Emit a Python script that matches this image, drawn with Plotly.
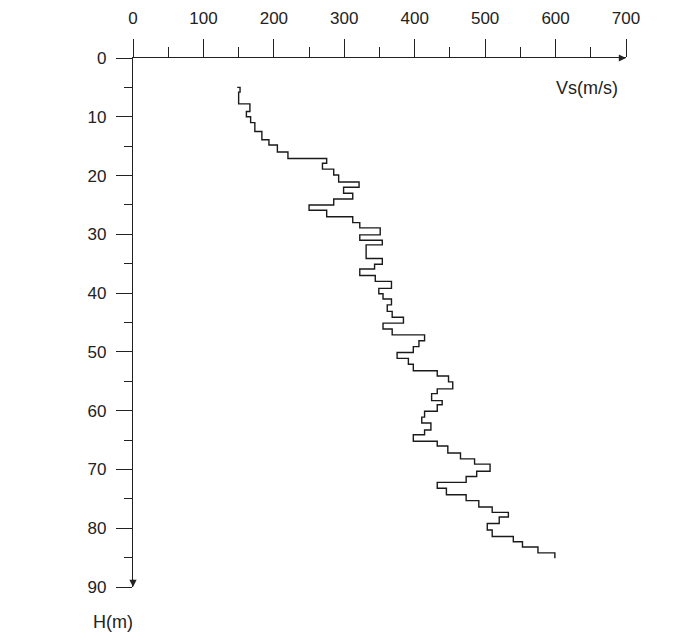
import plotly.graph_objects as go

# Layer top depths (m) and shear-wave velocity (m/s) of each layer
depth_top = [5.0, 5.0, 5.8, 7.8, 9.1, 10.0, 11.0, 12.5, 13.9, 14.8, 16.0, 17.1, 17.9, 18.9, 19.9,
             21.1, 22.0, 23.0, 24.0, 25.0, 25.9, 27.0, 28.0, 28.9, 30.1, 31.0, 31.8, 34.1, 35.1,
             35.9, 37.0, 38.0, 39.2, 40.1, 41.0, 42.0, 43.1, 44.1, 45.1, 46.1, 47.1, 48.1, 49.1,
             50.1, 51.1, 52.1, 53.2, 54.1, 55.1, 56.3, 57.1, 58.3, 59.0, 60.1, 61.1, 62.1, 63.3,
             64.1, 65.2, 66.0, 67.2, 68.2, 69.1, 70.3, 71.2, 72.2, 73.2, 74.3, 75.3, 76.4, 77.3,
             78.1, 79.2, 80.3, 81.4, 82.3, 83.2, 84.2]
vs = [148, 152, 150, 166, 161, 167, 173, 183, 193, 205, 220, 275, 269, 285, 292,
      321, 299, 312, 285, 250, 275, 312, 322, 351, 322, 354, 331, 354, 343,
      322, 344, 367, 349, 355, 367, 361, 368, 384, 355, 368, 414, 406, 398,
      375, 391, 398, 432, 448, 454, 432, 424, 439, 432, 414, 410, 423, 414,
      398, 432, 447, 465, 485, 507, 488, 473, 432, 445, 473, 491, 510, 533,
      520, 503, 510, 540, 553, 575, 599]
bottom_depth = 85.1

x_ticks = [0, 100, 200, 300, 400, 500, 600, 700]
y_ticks = [0, 10, 20, 30, 40, 50, 60, 70, 80, 90]
x_title = "Vs(m/s)"
y_title = "H(m)"

FONT = "Liberation Sans, Arial, sans-serif"
INK = "#222222"

fig = go.Figure()
fig.add_trace(go.Scatter(
    x=vs + [vs[-1]],
    y=depth_top + [bottom_depth],
    mode="lines",
    line=dict(color="#1a1a1a", width=1.4, shape="vh"),
    hoverinfo="skip",
    showlegend=False,
))

# the page body adds an 8px offset, so the figure is 8px smaller and margins shifted
fig.update_layout(
    width=685, height=632,
    margin=dict(l=125, r=67, t=50, b=53, autoexpand=False),
    paper_bgcolor="white", plot_bgcolor="white",
    font=dict(family=FONT, size=17, color=INK),
    showlegend=False,
)
fig.update_xaxes(
    range=[0, 700], side="top", tickvals=x_ticks, ticktext=[str(v) for v in x_ticks],
    automargin=False,
    showgrid=False, zeroline=False, showline=True, linecolor=INK, linewidth=1.2,
    ticks="outside", ticklen=18, tickwidth=1.2, tickcolor=INK, ticklabelstandoff=8,
    minor=dict(dtick=50, tick0=0, ticks="outside", ticklen=10, tickwidth=1.2, tickcolor=INK, showgrid=False),
)
fig.update_yaxes(
    range=[90, 0], tickvals=y_ticks, ticktext=[str(v) for v in y_ticks],
    automargin=False,
    showgrid=False, zeroline=False, showline=True, linecolor=INK, linewidth=1.2,
    ticks="outside", ticklen=16, tickwidth=1.2, tickcolor=INK, ticklabelstandoff=6,
    minor=dict(dtick=5, tick0=0, ticks="outside", ticklen=8, tickwidth=1.2, tickcolor=INK, showgrid=False),
)

# axis arrowheads
fig.add_annotation(x=700, y=0, ax=690, ay=0, xref="x", yref="y", axref="x", ayref="y",
                   showarrow=True, arrowhead=2, arrowsize=1.2, arrowwidth=1.2, arrowcolor=INK, text="")
fig.add_annotation(x=0, y=90, ax=0, ay=88.5, xref="x", yref="y", axref="x", ayref="y",
                   showarrow=True, arrowhead=2, arrowsize=1.2, arrowwidth=1.2, arrowcolor=INK, text="")

# axis titles
fig.add_annotation(x=645, y=5.1, xref="x", yref="y", text=x_title, showarrow=False,
                   font=dict(family=FONT, size=18, color=INK), xanchor="center", yanchor="middle")
fig.add_annotation(x=-0.04, y=-0.066, xref="paper", yref="paper", text=y_title, showarrow=False,
                   font=dict(family=FONT, size=18, color=INK), xanchor="center", yanchor="middle")

fig.write_html("out.html")
